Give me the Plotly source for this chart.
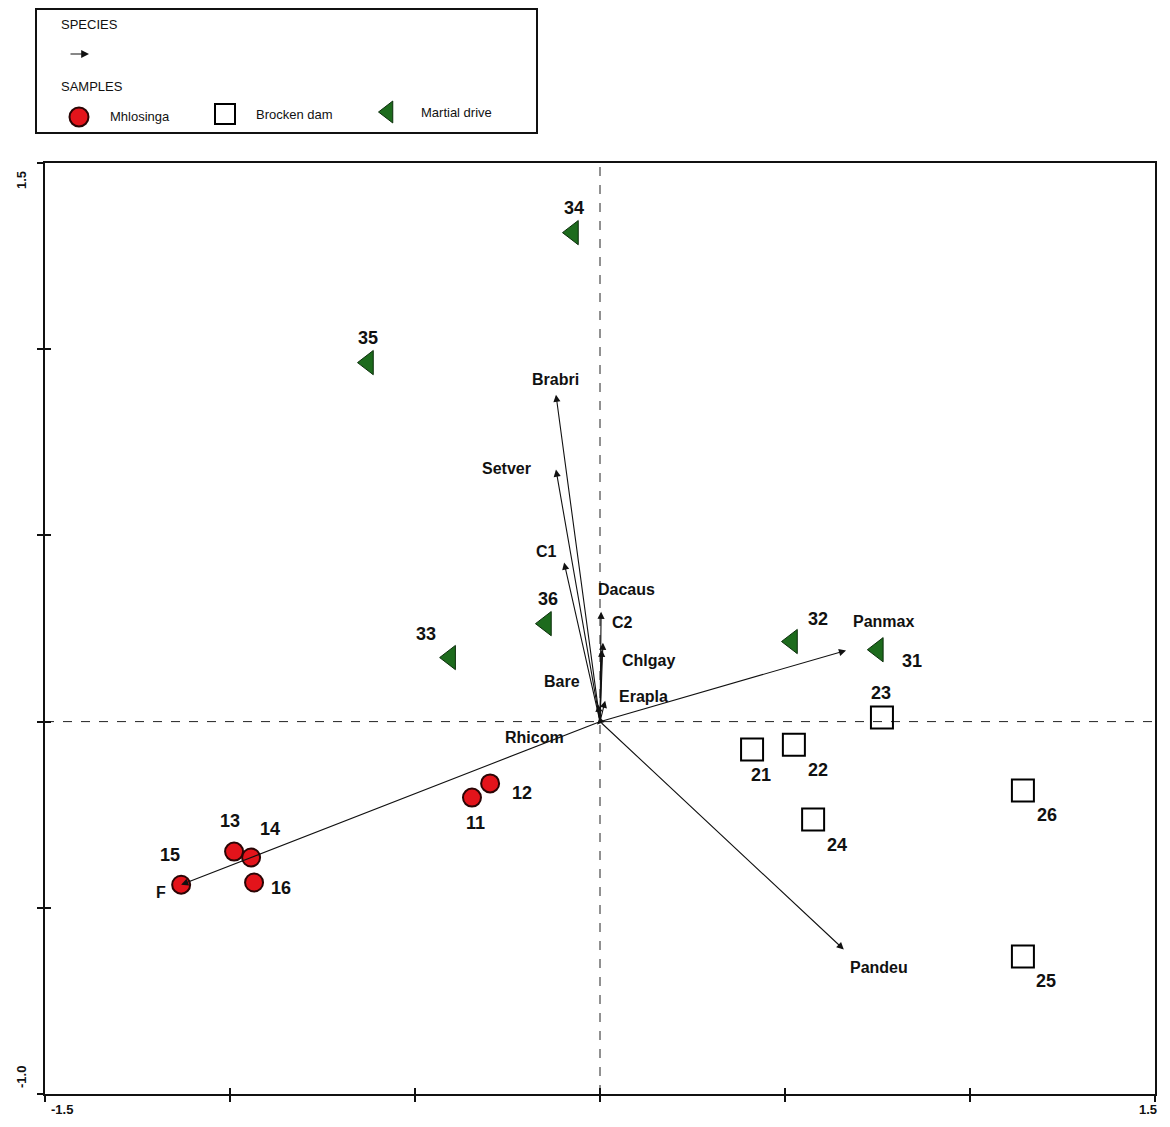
import plotly.graph_objects as go

# ---------------- data ----------------
# Samples (ordination scores)
mh_labels = ["15", "13", "14", "16", "11", "12"]
mh_x = [-1.132, -0.989, -0.943, -0.935, -0.346, -0.297]
mh_y = [-0.438, -0.349, -0.365, -0.432, -0.204, -0.166]

bd_labels = ["21", "22", "23", "24", "26", "25"]
bd_x = [0.411, 0.524, 0.762, 0.576, 1.143, 1.143]
bd_y = [-0.075, -0.062, 0.011, -0.263, -0.185, -0.631]

md_labels = ["34", "35", "36", "33", "32", "31"]
md_x = [-0.073, -0.627, -0.146, -0.405, 0.519, 0.751]
md_y = [1.313, 0.964, 0.263, 0.172, 0.215, 0.193]

# Species arrows (head coordinates; tails at origin)
sp_labels = ["Brabri", "Setver", "C1", "Dacaus", "C2", "Chlgay", "Erapla", "Bare",
             "Rhicom", "Panmax", "Pandeu", "F"]
sp_x = [-0.119, -0.119, -0.097, 0.003, 0.008, 0.005, 0.014, -0.005,
        -0.008, 0.665, 0.659, -1.132]
sp_y = [0.878, 0.677, 0.427, 0.295, 0.212, 0.193, 0.056, 0.046,
        -0.008, 0.191, -0.612, -0.438]

x_ticks = [-1.5, -1.0, -0.5, 0.0, 0.5, 1.0, 1.5]
y_ticks = [-1.0, -0.5, 0.0, 0.5, 1.0, 1.5]

# ---------------- label placement (pixel offsets) ----------------
sample_shift = {
    "15": (-11, 30), "13": (-4, 31), "14": (19, 29), "16": (27, -6),
    "11": (4, -25), "12": (32, -10),
    "21": (9, -25), "22": (24, -25), "23": (-1, 25), "24": (24, -25),
    "26": (24, -25), "25": (23, -24),
    "34": (1, 25), "35": (0, 25), "36": (2, 25), "33": (-24, 24),
    "32": (26, 23), "31": (34, -11),
}
species_shift = {
    "Brabri": (0, 15), "Setver": (-49, 1), "C1": (-18, 11), "Dacaus": (25, 22),
    "C2": (20, 20), "Chlgay": (47, -11), "Erapla": (38, 4), "Bare": (-36, 23),
    "Rhicom": (-63, -13), "Panmax": (37, 29), "Pandeu": (35, -18), "F": (-20, -8),
}

FONT = "Liberation Sans, Arial, sans-serif"
RED = "#e3141b"
GREEN = "#1d6b1d"

# page body margin offset (browser default 8px)
OFF = 8
W, H = 1154, 1111
ML, MR, MT, MB = 37, 7, 0, 25
PW, PH = W - ML - MR, H - MT - MB


def px(xpage):
    return (xpage - OFF - ML) / PW


def py(ypage):
    return (PH - (ypage - OFF)) / PH


fig = go.Figure()

# Samples
fig.add_trace(go.Scatter(
    x=mh_x, y=mh_y, mode="markers", name="Mhlosinga",
    marker=dict(symbol="circle", size=18, color=RED, line=dict(color="#2a0505", width=2)),
    cliponaxis=False, showlegend=False))
fig.add_trace(go.Scatter(
    x=bd_x, y=bd_y, mode="markers", name="Brocken dam",
    marker=dict(symbol="square-open", size=22, color="black", line=dict(width=2)),
    cliponaxis=False, showlegend=False))
fig.add_trace(go.Scatter(
    x=md_x, y=md_y, mode="markers", name="Martial drive",
    marker=dict(symbol="triangle-left", size=21, color=GREEN, line=dict(color="#0b2e0b", width=1)),
    cliponaxis=False, showlegend=False))

annotations = []
# sample labels
for labs, xs, ys in [(mh_labels, mh_x, mh_y), (bd_labels, bd_x, bd_y), (md_labels, md_x, md_y)]:
    for lab, xv, yv in zip(labs, xs, ys):
        dx, dy = sample_shift[lab]
        annotations.append(dict(x=xv, y=yv, xref="x", yref="y", text="<b>%s</b>" % lab,
                                showarrow=False, xshift=dx, yshift=dy,
                                xanchor="center", yanchor="middle",
                                font=dict(family=FONT, size=18, color="#111")))

# species arrows + labels
for lab, xv, yv in zip(sp_labels, sp_x, sp_y):
    annotations.append(dict(x=xv, y=yv, xref="x", yref="y", ax=0, ay=0,
                            axref="x", ayref="y", showarrow=True, text="",
                            arrowhead=2, arrowsize=1.3, arrowwidth=1.1,
                            arrowcolor="#111", standoff=0, startstandoff=0))
    dx, dy = species_shift[lab]
    annotations.append(dict(x=xv, y=yv, xref="x", yref="y", text="<b>%s</b>" % lab,
                            showarrow=False, xshift=dx, yshift=dy,
                            xanchor="center", yanchor="middle",
                            font=dict(family=FONT, size=16, color="#111")))

# axis end labels
tick_font = dict(family=FONT, size=13, color="#111")
for txt, lx, ly, ang in [("-1.5", 62, 1109, 0), ("1.5", 1148, 1109, 0),
                         ("1.5", 21, 180, -90), ("-1.0", 21, 1077, -90)]:
    annotations.append(dict(x=px(lx), y=py(ly), xref="paper", yref="paper",
                            text="<b>%s</b>" % txt, showarrow=False, textangle=ang,
                            xanchor="center", yanchor="middle", font=tick_font))

# ---------------- legend (legend axes in page-pixel units) ----------------
leg_font = dict(family=FONT, size=13, color="#111")
dom_top = (PH - (163 - OFF)) / PH
legend_items = [
    ("SPECIES", 59, 24),
    ("SAMPLES", 59, 86),
    ("Mhlosinga", 108, 116),
    ("Brocken dam", 254, 114),
    ("Martial drive", 419, 112),
]
for txt, lx, ly in legend_items:
    annotations.append(dict(x=lx, y=ly, xref="x2", yref="y2", text=txt, showarrow=False,
                            xanchor="left", yanchor="middle", font=leg_font))
annotations.append(dict(x=89, y=54, xref="x2", yref="y2", ax=69, ay=54, axref="x2", ayref="y2",
                        showarrow=True, text="", arrowhead=2, arrowsize=1.3, arrowwidth=1.2,
                        arrowcolor="#111", standoff=0))

fig.add_trace(go.Scatter(x=[79], y=[117], xaxis="x2", yaxis="y2", mode="markers",
                         marker=dict(symbol="circle", size=19, color=RED, line=dict(color="#2a0505", width=2)),
                         cliponaxis=False, showlegend=False, hoverinfo="skip"))
fig.add_trace(go.Scatter(x=[225], y=[114], xaxis="x2", yaxis="y2", mode="markers",
                         marker=dict(symbol="square-open", size=20, color="black", line=dict(width=2)),
                         cliponaxis=False, showlegend=False, hoverinfo="skip"))
fig.add_trace(go.Scatter(x=[388], y=[112], xaxis="x2", yaxis="y2", mode="markers",
                         marker=dict(symbol="triangle-left", size=19, color=GREEN, line=dict(color="#0b2e0b", width=1)),
                         cliponaxis=False, showlegend=False, hoverinfo="skip"))

# dummy trace for the inner-tick overlay axes
fig.add_trace(go.Scatter(x=[None], y=[None], xaxis="x3", yaxis="y3", showlegend=False, hoverinfo="skip"))

shapes = [
    dict(type="line", xref="x", yref="y", x0=0, x1=0, y0=y_ticks[0], y1=y_ticks[-1],
         line=dict(color="#222", width=1, dash="dash"), layer="below"),
    dict(type="line", xref="x", yref="y", x0=x_ticks[0], x1=x_ticks[-1], y0=0, y1=0,
         line=dict(color="#222", width=1, dash="dash"), layer="below"),
    dict(type="rect", xref="paper", yref="paper", x0=px(36), x1=px(537), y0=py(133), y1=py(9),
         line=dict(color="#111", width=2), fillcolor="rgba(0,0,0,0)"),
]

axis_common = dict(showgrid=False, zeroline=False)
fig.update_layout(
    width=W, height=H,
    margin=dict(l=ML, r=MR, t=MT, b=MB),
    paper_bgcolor="white", plot_bgcolor="white",
    showlegend=False,
    xaxis=dict(domain=[0, 1], range=[x_ticks[0], x_ticks[-1]], tickvals=x_ticks,
               ticks="outside", ticklen=6, tickwidth=1.5, tickcolor="#111",
               showticklabels=False, showline=True, mirror=True, linewidth=2,
               linecolor="#111", **axis_common),
    yaxis=dict(domain=[0, dom_top], range=[y_ticks[0], y_ticks[-1]], tickvals=y_ticks,
               ticks="outside", ticklen=6, tickwidth=1.5, tickcolor="#111",
               showticklabels=False, showline=True, mirror=True, linewidth=2,
               linecolor="#111", **axis_common),
    xaxis3=dict(overlaying="x", matches="x", side="bottom", tickvals=x_ticks,
                ticks="inside", ticklen=6, tickwidth=1.5, tickcolor="#111",
                showticklabels=False, showline=False, **axis_common),
    yaxis3=dict(overlaying="y", matches="y", side="left", tickvals=y_ticks,
                ticks="inside", ticklen=6, tickwidth=1.5, tickcolor="#111",
                showticklabels=False, showline=False, anchor="x3", **axis_common),
    xaxis2=dict(domain=[0, 1], range=[ML + OFF, ML + OFF + PW], visible=False, anchor="y2"),
    yaxis2=dict(domain=[dom_top, 1], range=[163, OFF], visible=False, anchor="x2"),
    annotations=annotations,
    shapes=shapes,
)

fig.write_html("out.html")
